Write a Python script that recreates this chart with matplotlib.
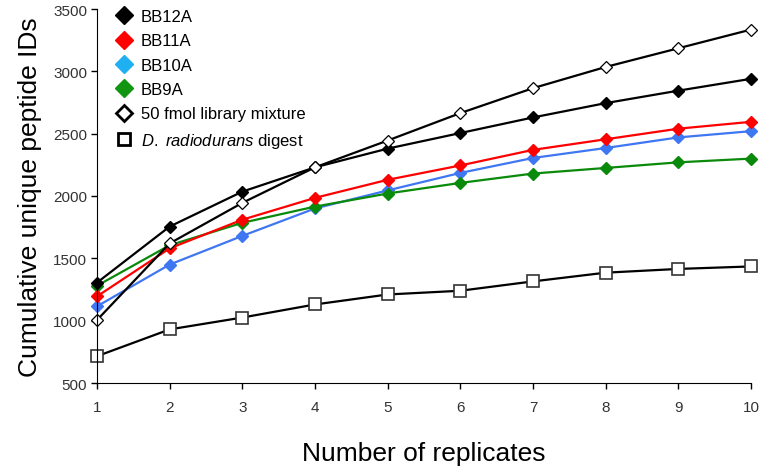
import matplotlib
matplotlib.use("Agg")
from matplotlib import pyplot as plt
from matplotlib.lines import Line2D

plt.rcParams["mathtext.fontset"] = "custom"
plt.rcParams["mathtext.it"] = "Liberation Sans:italic"
plt.rcParams["mathtext.rm"] = "Liberation Sans"

replicates = [1, 2, 3, 4, 5, 6, 7, 8, 9, 10]

bb12a = [1305, 1755, 2035, 2230, 2380, 2505, 2630, 2745, 2845, 2940]
bb11a = [1195, 1580, 1810, 1985, 2130, 2245, 2370, 2455, 2540, 2595]
bb10a = [1115, 1450, 1680, 1900, 2045, 2185, 2305, 2385, 2470, 2520]
bb9a = [1280, 1605, 1785, 1915, 2020, 2105, 2180, 2225, 2270, 2300]
fmol_mix = [1005, 1620, 1945, 2230, 2445, 2665, 2865, 3035, 3185, 3335]
d_rad = [715, 930, 1025, 1130, 1210, 1240, 1315, 1385, 1415, 1435]

fig = plt.figure(figsize=(7.64, 4.77), dpi=100)
ax = fig.add_axes([97/764, 1-384/477, (751-97)/764, (384-10)/477])

ax.plot(replicates, d_rad, "-s", color="black", lw=1.6, ms=8,
        mfc="white", mec="#333333", mew=1.2)
ax.plot(replicates, bb10a, "-D", color="#3f77f2", lw=1.6, ms=6, mec="#3f77f2")
ax.plot(replicates, bb9a, "-D", color="#0a8a0a", lw=1.6, ms=6, mec="#0a8a0a")
ax.plot(replicates, bb11a, "-D", color="#ff0000", lw=1.6, ms=6, mec="#ff0000")
ax.plot(replicates, bb12a, "-D", color="black", lw=1.6, ms=6)
ax.plot(replicates, fmol_mix, "-D", color="black", lw=1.6, ms=6,
        mfc="white", mec="black", mew=0.9)

ax.set_xlim(1, 10)
ax.set_ylim(500, 3500)
ax.set_xticks(replicates)
ax.set_yticks([500, 1000, 1500, 2000, 2500, 3000, 3500])
for lab in ax.get_xticklabels() + ax.get_yticklabels():
    lab.set_fontfamily(["Liberation Sans Narrow", "Liberation Sans"])
    lab.set_fontsize(11)
    lab.set_color("#333333")
ax.tick_params(axis="both", direction="out", length=4, width=1, pad=8)
ax.tick_params(axis="y", pad=3)
ax.spines["top"].set_visible(False)
ax.spines["right"].set_visible(False)
for ln in ax.lines:
    ln.set_clip_on(False)

ax.set_xlabel("Number of replicates", fontsize=19, family="Liberation Sans", labelpad=20)
ax.set_ylabel("Cumulative unique peptide IDs", fontsize=19, family="Liberation Sans", labelpad=8)

handles = [
    Line2D([], [], ls="", marker="D", ms=9, color="black"),
    Line2D([], [], ls="", marker="D", ms=9, color="#ff0000"),
    Line2D([], [], ls="", marker="D", ms=9, color="#1eb0f0"),
    Line2D([], [], ls="", marker="D", ms=9, color="#129612"),
    Line2D([], [], ls="", marker="D", ms=8, mfc="white", mec="black", mew=2),
    Line2D([], [], ls="", marker="s", ms=8, mfc="white", mec="black", mew=2),
]
labels = ["BB12A", "BB11A", "BB10A", "BB9A", "50 fmol library mixture",
          "$\\mathit{D.}$ $\\mathit{radiodurans}$ digest"]
leg = ax.legend(handles, labels, loc="upper left", bbox_to_anchor=(0.006, 1.04),
                frameon=False, prop={"family": "Liberation Sans", "size": 12},
                handlelength=1.0, handletextpad=0.5, labelspacing=0.56)

plt.savefig("out.png", dpi=100)
